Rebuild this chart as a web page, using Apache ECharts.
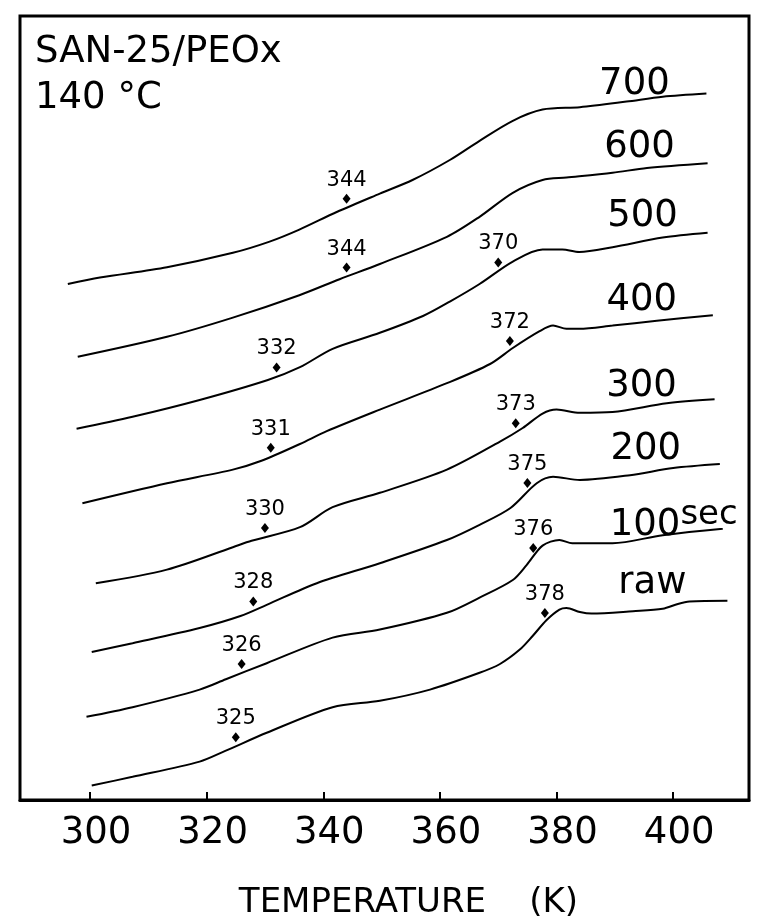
<!DOCTYPE html>
<html>
<head>
<meta charset="utf-8">
<title>SAN-25/PEOx DSC traces</title>
<script src="https://cdn.jsdelivr.net/npm/echarts@6/dist/echarts.min.js"></script>
<style>
  html, body { margin: 0; padding: 0; background: #fff; }
  #chart { width: 759px; height: 916px; }
</style>
</head>
<body>
<div id="chart"></div>
<script>
// DSC heating traces of SAN-25/PEOx blends annealed at 140 °C for increasing times.
// Temperature in K, heat flow in arbitrary units (traces offset vertically).

const curveNames = ['700', '600', '500', '400', '300', '200', '100sec', 'raw'];

const temp700 = [296.2, 301.7, 313.2, 324.5, 330.8, 335.9, 342.3, 349.7, 355.3, 361.7, 366.8, 372.5, 377.6, 384.0, 392.0, 398.2, 405.7];
const heat700 = [64.5, 65.3, 66.6, 68.4, 69.8, 71.3, 73.5, 75.8, 77.5, 80.0, 82.4, 84.9, 86.3, 86.6, 87.3, 87.9, 88.3];

const temp600 = [297.9, 313.2, 324.5, 335.9, 342.8, 349.7, 361.2, 366.8, 372.5, 377.6, 381.7, 389.6, 395.5, 405.9];
const heat600 = [55.4, 57.9, 60.3, 63.1, 65.1, 67.0, 70.4, 72.9, 75.9, 77.5, 77.8, 78.4, 79.0, 79.6];

const temp500 = [297.7, 307.3, 318.8, 330.5, 336.0, 341.6, 349.7, 357.1, 361.7, 366.8, 372.5, 377.6, 381.0, 383.9, 389.6, 398.2, 405.9];
const heat500 = [46.4, 47.9, 50.0, 52.5, 54.1, 56.4, 58.4, 60.5, 62.3, 64.5, 67.3, 68.8, 68.8, 68.5, 69.1, 70.3, 70.9];

const temp400 = [298.7, 313.2, 324.5, 329.4, 336.0, 340.6, 349.7, 361.2, 368.6, 372.5, 377.1, 379.4, 381.7, 383.9, 389.6, 397.2, 406.8];
const heat400 = [37.1, 39.6, 41.3, 42.4, 44.5, 46.1, 48.8, 52.1, 54.5, 56.5, 58.6, 59.3, 58.9, 58.9, 59.3, 59.9, 60.6];

const temp300 = [301.0, 313.2, 324.5, 327.7, 336.0, 341.6, 349.7, 361.2, 370.3, 374.2, 377.6, 380.0, 384.0, 389.6, 398.9, 407.1];
const heat300 = [27.1, 28.8, 31.6, 32.4, 34.1, 36.6, 38.4, 41.3, 44.8, 46.5, 48.3, 48.8, 48.4, 48.5, 49.6, 50.1];

const temp200 = [300.3, 307.3, 318.8, 325.8, 330.3, 338.9, 349.7, 361.2, 366.8, 372.1, 376.6, 379.4, 384.0, 392.6, 400.0, 408.0];
const heat200 = [18.5, 19.6, 21.5, 23.0, 24.4, 27.1, 29.6, 32.5, 34.4, 36.5, 39.6, 40.4, 40.0, 40.6, 41.5, 42.0];

const temp100 = [299.4, 307.3, 318.8, 323.3, 330.3, 341.6, 349.7, 361.2, 366.8, 372.5, 374.9, 377.6, 380.5, 382.7, 389.6, 398.2, 408.5];
const heat100 = [10.4, 11.6, 13.8, 15.1, 17.1, 20.3, 21.3, 23.4, 25.3, 27.5, 29.4, 31.8, 32.5, 32.1, 32.1, 33.1, 33.9];

const tempRaw = [300.3, 307.3, 318.8, 323.1, 330.3, 341.6, 349.7, 358.3, 366.8, 370.3, 373.7, 375.9, 378.3, 380.5, 381.7, 384.0, 386.0, 393.1, 398.2, 400.8, 402.8, 409.3];
const heatRaw = [1.8, 2.9, 4.8, 6.1, 8.4, 11.6, 12.4, 13.8, 15.9, 17.0, 18.8, 20.5, 22.5, 23.8, 24.0, 23.5, 23.3, 23.6, 23.9, 24.5, 24.8, 24.9];

// Glass transition temperatures (K) marked on each trace
const tg700 = [344];
const tg600 = [344];
const tg500 = [332, 370];
const tg400 = [331, 372];
const tg300 = [330, 373];
const tg200 = [328, 375];
const tg100 = [326, 376];
const tgRaw = [325, 378];

const tempTicks = [300, 320, 340, 360, 380, 400];

const traces = [
  { name: curveNames[0], t: temp700, h: heat700, tg: tg700 },
  { name: curveNames[1], t: temp600, h: heat600, tg: tg600 },
  { name: curveNames[2], t: temp500, h: heat500, tg: tg500 },
  { name: curveNames[3], t: temp400, h: heat400, tg: tg400 },
  { name: curveNames[4], t: temp300, h: heat300, tg: tg300 },
  { name: curveNames[5], t: temp200, h: heat200, tg: tg200 },
  { name: curveNames[6], t: temp100, h: heat100, tg: tg100 },
  { name: curveNames[7], t: tempRaw, h: heatRaw, tg: tgRaw }
];

// Offsets of the annealing-time tags from each trace's last point
const tagOffsets = [[-72, -9], [-68, -16], [-65, -16], [-71, -15], [-73, -13], [-74, -15], [-49, -8], [-75, -17]];

const FONT = 'DejaVu Sans';

function heatAt(t, h, x) {
  for (let i = 1; i < t.length; i++) {
    if (x <= t[i]) {
      const f = (x - t[i - 1]) / (t[i] - t[i - 1]);
      return h[i - 1] + f * (h[i] - h[i - 1]);
    }
  }
  return h[h.length - 1];
}

const series = traces.map((tr, k) => {
  const last = tr.t.length - 1;
  const isSec = tr.name === '100sec';
  const tagLabel = {
    show: true,
    color: '#000',
    fontFamily: FONT,
    fontSize: 37,
    offset: tagOffsets[k],
    position: 'inside',
    formatter: isSec ? '{a|100}{b|sec}' : tr.name,
    rich: isSec ? {
      a: { fontFamily: FONT, fontSize: 37, color: '#000', verticalAlign: 'bottom' },
      b: { fontFamily: FONT, fontSize: 34, color: '#000', verticalAlign: 'bottom', padding: [0, 0, 12, 0] }
    } : undefined
  };
  const marks = [{
    coord: [tr.t[last], tr.h[last]],
    symbol: 'circle',
    symbolSize: 0,
    label: tagLabel
  }];
  tr.tg.forEach(v => {
    marks.push({
      coord: [v, heatAt(tr.t, tr.h, v)],
      symbol: 'diamond',
      symbolSize: [8, 10],
      symbolOffset: [0, -9],
      itemStyle: { color: '#000' },
      label: {
        show: true,
        position: 'top',
        distance: 3,
        formatter: String(v),
        color: '#000',
        fontFamily: FONT,
        fontSize: 21
      }
    });
  });
  return {
    name: tr.name,
    type: 'line',
    data: tr.t.map((x, i) => [x, tr.h[i]]),
    smooth: 0.3,
    symbol: 'none',
    lineStyle: { color: '#000', width: 2 },
    silent: true,
    animation: false,
    markPoint: {
      silent: true,
      animation: false,
      data: marks
    }
  };
});

const chart = echarts.init(document.getElementById('chart'), null, { renderer: 'canvas' });
chart.setOption({
  backgroundColor: '#fff',
  animation: false,
  title: {
    text: 'SAN-25/PEOx\n140 °C',
    left: 30,
    top: 24,
    textStyle: { fontFamily: FONT, fontSize: 37, fontWeight: 'normal', color: '#000', lineHeight: 46 }
  },
  grid: {
    left: 20, right: 10, top: 16, bottom: 116,
    outerBoundsMode: 'none',
    containLabel: false,
    show: true, borderColor: '#000', borderWidth: 3, backgroundColor: 'transparent'
  },
  xAxis: {
    type: 'value',
    min: 288,
    max: 413,
    name: 'TEMPERATURE    (K)',
    nameLocation: 'middle',
    nameGap: 86,
    nameTextStyle: { fontFamily: FONT, fontSize: 34, color: '#000', padding: [0, 0, 0, 48] },
    axisLine: { show: true, lineStyle: { color: '#000', width: 3 } },
    axisTick: { show: true, inside: true, length: 8, customValues: tempTicks, lineStyle: { color: '#000', width: 2 } },
    axisLabel: { show: true, customValues: tempTicks, margin: 15, padding: [0, 0, 0, 12], fontFamily: FONT, fontSize: 37, color: '#000' },
    splitLine: { show: false }
  },
  yAxis: {
    type: 'value',
    min: 0,
    max: 98,
    show: false,
    splitLine: { show: false }
  },
  series: series
});
</script>
</body>
</html>
